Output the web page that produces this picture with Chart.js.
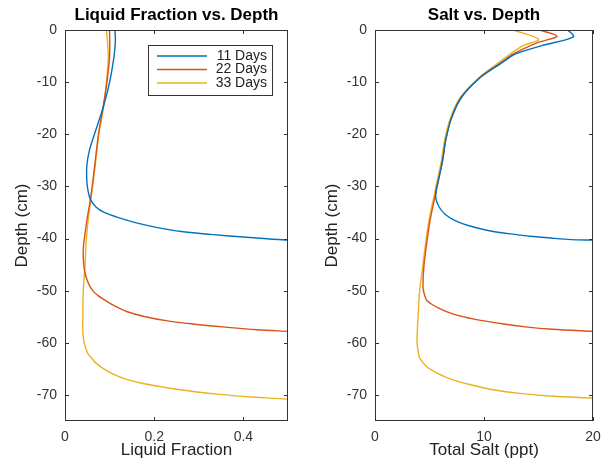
<!DOCTYPE html>
<html>
<head>
<meta charset="utf-8">
<script src="https://cdn.jsdelivr.net/npm/chart.js@4.4.1/dist/chart.umd.min.js"></script>
<style>
  body { margin: 0; background: #fff; }
  #wrapLeft { position: absolute; left: 0; top: 0; width: 300px; height: 459px; }
  #wrapRight { position: absolute; left: 310px; top: 0; width: 295px; height: 459px; }
</style>
</head>
<body>
<div id="wrapLeft"><canvas id="fracChart"></canvas></div>
<div id="wrapRight"><canvas id="saltChart"></canvas></div>
<script>
const seriesLabels = ['11 Days', '22 Days', '33 Days'];
const seriesColors = ['#0072BD', '#D95319', '#EDB120'];

// liquid fraction profiles (depth in cm, fraction)
const fracDepth11 = [0, -2, -5, -10, -15, -20, -23, -26, -29, -31, -32.5, -34, -35, -36, -37, -38, -38.7, -39.2, -39.7, -40.1, -40.3];
const frac11 = [0.112, 0.113, 0.110, 0.100, 0.085, 0.066, 0.055, 0.049, 0.049, 0.052, 0.057, 0.070, 0.088, 0.120, 0.160, 0.213, 0.265, 0.325, 0.40, 0.46, 0.50];
const fracDepth22 = [0, -5, -10, -15, -20, -25, -30, -33, -36, -39, -42, -45, -47, -48.5, -50, -51, -52, -53, -54, -55, -55.8, -56.4, -57, -57.5, -57.8];
const frac22 = [0.100, 0.100, 0.094, 0.085, 0.075, 0.068, 0.061, 0.056, 0.050, 0.045, 0.041, 0.042, 0.046, 0.052, 0.062, 0.075, 0.093, 0.113, 0.138, 0.180, 0.23, 0.287, 0.36, 0.43, 0.50];
const fracDepth33 = [0, -5, -10, -15, -20, -25, -30, -35, -40, -45, -50, -55, -58, -60, -62, -63, -64, -65, -66, -67, -67.8, -68.9, -69.9, -70.4, -70.8];
const frac33 = [0.093, 0.097, 0.093, 0.086, 0.076, 0.069, 0.062, 0.054, 0.048, 0.045, 0.041, 0.040, 0.040, 0.043, 0.051, 0.060, 0.071, 0.087, 0.108, 0.138, 0.175, 0.25, 0.347, 0.42, 0.50];

// total salt profiles (depth in cm, ppt)
const saltDepth11 = [0, -1.3, -3, -4.6, -6.5, -9.2, -13, -17, -21, -25, -29, -31, -32.5, -34, -35.3, -36.5, -37.6, -38.5, -39.1, -39.6, -39.9, -40.2, -40.3];
const salt11 = [17.7, 18.2, 15.3, 12.9, 11.5, 9.6, 7.9, 7.0, 6.5, 6.2, 5.8, 5.6, 5.6, 5.9, 6.4, 7.3, 8.7, 10.5, 12.4, 14.5, 16.1, 18.0, 20];
const saltDepth22 = [0, -1.2, -2.5, -4.6, -6.5, -9.2, -13, -17, -21, -25, -29, -32, -36, -40, -45, -49, -50.5, -52, -53.3, -54.5, -55.5, -56.4, -57, -57.4, -57.8];
const salt22 = [15.1, 16.7, 14.8, 12.7, 11.4, 9.6, 7.9, 7.0, 6.5, 6.2, 5.8, 5.5, 5.1, 4.8, 4.5, 4.4, 4.5, 4.8, 5.8, 7.2, 9.2, 11.8, 14.0, 16.3, 20];
const saltDepth33 = [0, -1.8, -3, -4.6, -6.5, -9.2, -13, -17, -21, -25, -29, -32, -36, -40, -45, -50, -55, -59.7, -61.5, -62.9, -64.5, -65.8, -67, -68, -69, -69.7, -70.2, -70.6];
const salt33 = [12.7, 15.0, 13.6, 12.4, 11.2, 9.5, 7.8, 6.9, 6.4, 6.1, 5.7, 5.4, 5.0, 4.7, 4.4, 4.1, 3.95, 3.85, 3.95, 4.1, 4.7, 5.7, 7.0, 8.7, 10.8, 13.3, 16.0, 20];

const depthTicks = [0, -10, -20, -30, -40, -50, -60, -70];
const fracTicks = [0, 0.2, 0.4];
const saltTicks = [0, 10, 20];

const FONT = '"Liberation Sans", Arial, Helvetica, sans-serif';
const AXIS_COLOR = '#333333';

function makePoints(xs, ys) {
    return xs.map((x, i) => ({ x: x, y: ys[i] }));
}

function makeDatasets(profiles) {
    return profiles.map((p, i) => ({
        label: seriesLabels[i],
        data: makePoints(p[0], p[1]),
        borderColor: seriesColors[i],
        backgroundColor: seriesColors[i],
        borderWidth: 1.4,
        pointRadius: 0,
        showLine: true,
        tension: 0.3,
        fill: false
    }));
}

// box around plot area with inward ticks (matlab look)
const boxPlugin = {
    id: 'boxPlugin',
    afterDraw(chart) {
        const ctx = chart.ctx;
        const a = chart.chartArea;
        const xs = chart.scales.x, ys = chart.scales.y;
        const len = 4;
        ctx.save();
        ctx.strokeStyle = AXIS_COLOR;
        ctx.lineWidth = 1;
        ctx.strokeRect(a.left + 0.5, a.top + 0.5, a.right - a.left - 1, a.bottom - a.top - 1);
        ctx.beginPath();
        xs.ticks.forEach(t => {
            const px = Math.round(xs.getPixelForValue(t.value)) + 0.5;
            ctx.moveTo(px, a.bottom); ctx.lineTo(px, a.bottom - len);
            ctx.moveTo(px, a.top); ctx.lineTo(px, a.top + len);
        });
        ys.ticks.forEach(t => {
            const py = Math.round(ys.getPixelForValue(t.value)) + 0.5;
            ctx.moveTo(a.left, py); ctx.lineTo(a.left + len, py);
            ctx.moveTo(a.right, py); ctx.lineTo(a.right - len, py);
        });
        ctx.stroke();
        // title centred on the plot area
        const title = chart.options.plugins.plotTitle;
        if (title) {
            ctx.fillStyle = '#000';
            ctx.font = 'bold 17px ' + FONT;
            ctx.textAlign = 'center';
            ctx.textBaseline = 'middle';
            ctx.fillText(title, (a.left + a.right) / 2, 15);
        }
        ctx.restore();
    }
};

const boxLegend = {
    id: 'boxLegend',
    afterDraw(chart, args, opts) {
        if (!opts.show) return;
        const ctx = chart.ctx;
        const a = chart.chartArea;
        const w = 124, h = 50;
        const x0 = a.right - 16 - w, y0 = a.top + 15;
        ctx.save();
        ctx.fillStyle = '#fff';
        ctx.fillRect(x0, y0, w, h);
        ctx.strokeStyle = AXIS_COLOR;
        ctx.lineWidth = 1;
        ctx.strokeRect(x0 + 0.5, y0 + 0.5, w, h);
        ctx.font = '14px ' + FONT;
        ctx.textAlign = 'right';
        ctx.textBaseline = 'middle';
        chart.data.datasets.forEach((ds, i) => {
            const y = y0 + 11 + i * 13.5;
            ctx.strokeStyle = ds.borderColor;
            ctx.lineWidth = 1.4;
            ctx.beginPath();
            ctx.moveTo(x0 + 9, y); ctx.lineTo(x0 + 59, y);
            ctx.stroke();
            ctx.fillStyle = '#222';
            ctx.fillText(ds.label, x0 + w - 5, y);
        });
        ctx.restore();
    }
};

function makeChart(id, datasets, xMax, xTicks, xTitle, title, showLegend) {
    const ctx = document.getElementById(id).getContext('2d');
    return new Chart(ctx, {
        type: 'scatter',
        data: { datasets: datasets },
        options: {
            responsive: true,
            maintainAspectRatio: false,
            animation: false,
            layout: { padding: { top: 30, right: 12, left: 0, bottom: 0 } },
            plugins: {
                legend: { display: false },
                tooltip: { enabled: false },
                plotTitle: title,
                boxLegend: { show: showLegend }
            },
            scales: {
                x: {
                    type: 'linear',
                    min: 0,
                    max: xMax,
                    grid: { display: false, drawTicks: false },
                    border: { display: false },
                    afterBuildTicks: s => { s.ticks = xTicks.map(v => ({ value: v })); },
                    afterFit: s => { s.height = 38; s.paddingLeft = 0; s.paddingRight = 0; },
                    ticks: {
                        color: '#333',
                        padding: 8,
                        font: { family: FONT, size: 14 },
                        maxRotation: 0,
                        callback: v => String(v)
                    },
                    title: {
                        display: true,
                        text: xTitle,
                        color: '#222',
                        font: { family: FONT, size: 17, lineHeight: 1 },
                        padding: { top: 0, bottom: 0 }
                    }
                },
                y: {
                    type: 'linear',
                    min: -75,
                    max: 0,
                    grid: { display: false, drawTicks: false },
                    border: { display: false },
                    afterBuildTicks: s => { s.ticks = depthTicks.map(v => ({ value: v })); },
                    afterFit: s => { s.width = 65; s.paddingTop = 0; s.paddingBottom = 0; },
                    ticks: {
                        color: '#333',
                        padding: 8,
                        font: { family: FONT, size: 14 },
                        callback: v => String(v)
                    },
                    title: {
                        display: true,
                        text: 'Depth (cm)',
                        color: '#222',
                        font: { family: FONT, size: 17 },
                        padding: { top: 12, bottom: 0 }
                    }
                }
            }
        },
        plugins: [boxPlugin, boxLegend]
    });
}

makeChart('fracChart',
    makeDatasets([[frac11, fracDepth11], [frac22, fracDepth22], [frac33, fracDepth33]]),
    0.5, fracTicks, 'Liquid Fraction', 'Liquid Fraction vs. Depth', true);

makeChart('saltChart',
    makeDatasets([[salt11, saltDepth11], [salt22, saltDepth22], [salt33, saltDepth33]]),
    20, saltTicks, 'Total Salt (ppt)', 'Salt vs. Depth', false);
</script>
</body>
</html>
